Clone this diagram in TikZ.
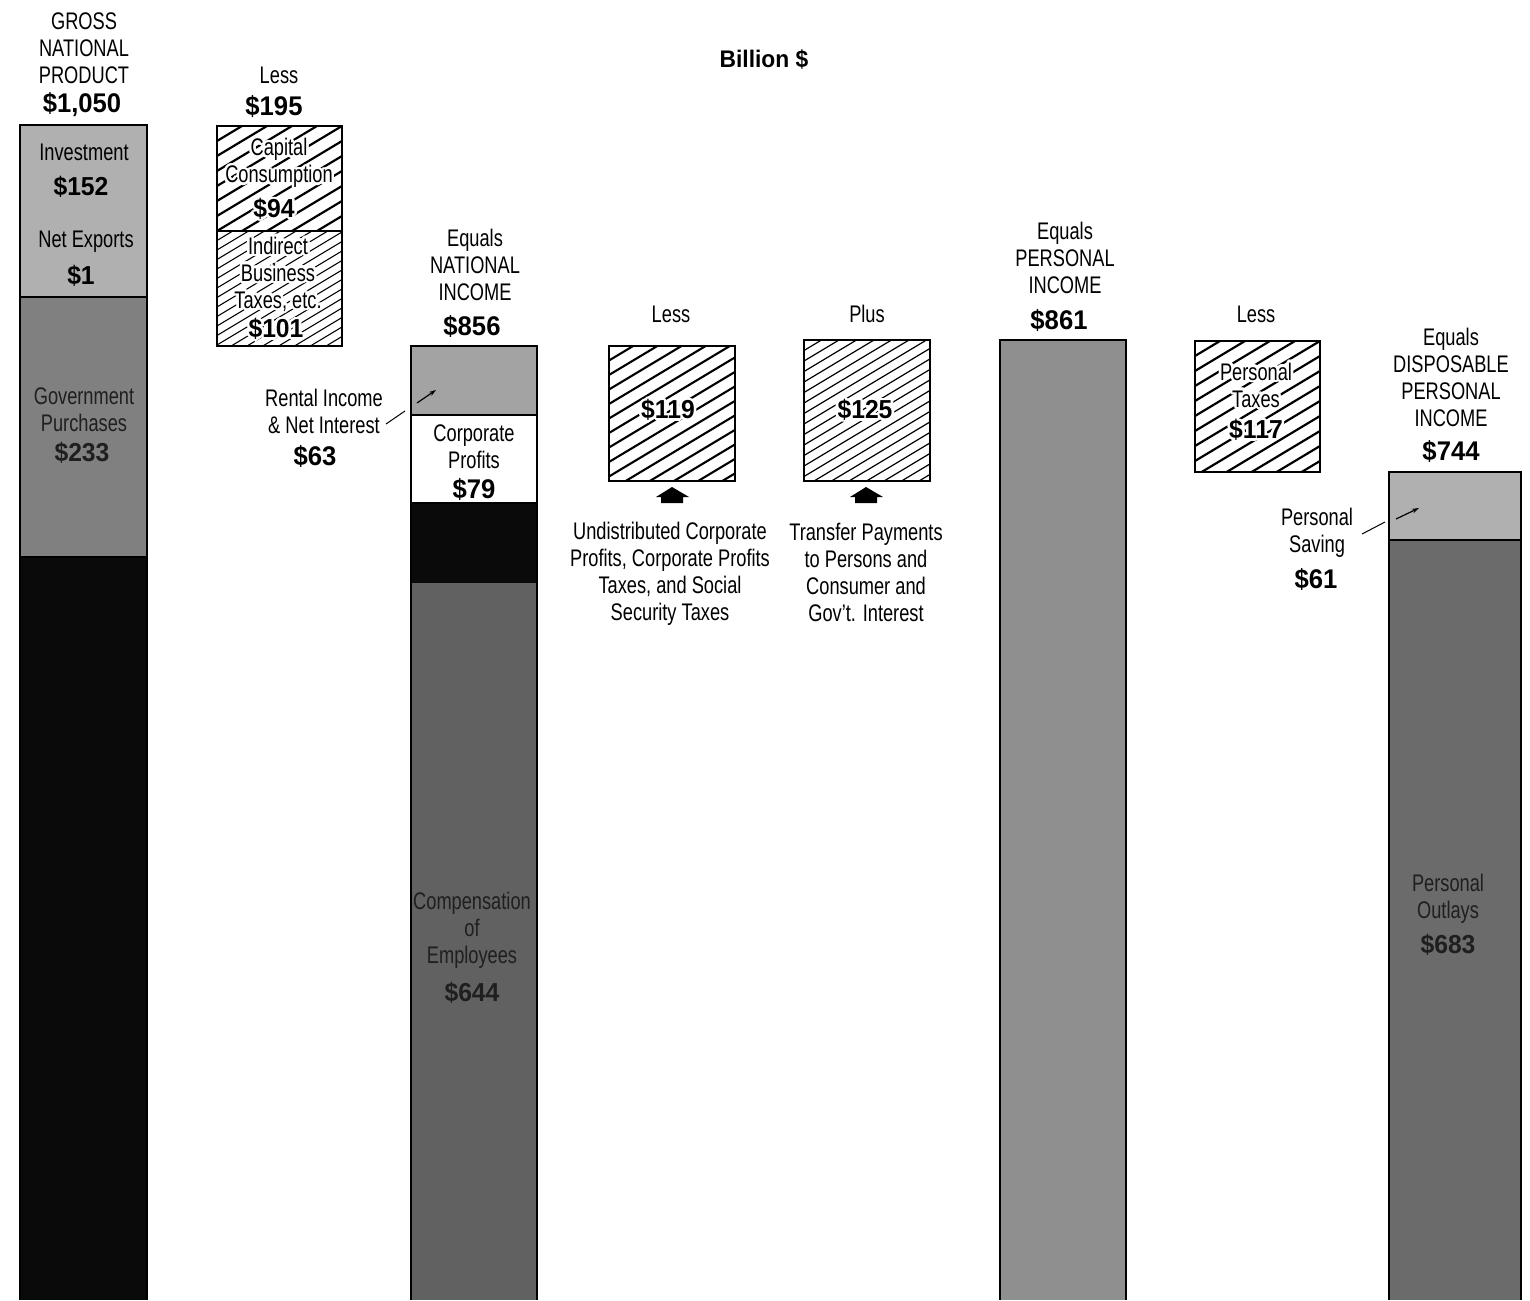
\documentclass[tikz,border=0pt]{standalone}
\usepackage{fontspec}
\setmainfont{Liberation Sans}[FakeStretch=0.76]
\newfontfamily\numf{Liberation Sans}[FakeStretch=0.95]
\usetikzlibrary{arrows.meta}
\definecolor{lightg}{gray}{0.69}
\definecolor{rentg}{gray}{0.64}
\definecolor{midg}{gray}{0.50}
\definecolor{darkg}{gray}{0.04}
\definecolor{compg}{gray}{0.38}
\definecolor{pig}{gray}{0.56}
\definecolor{outg}{gray}{0.42}
\definecolor{deep}{gray}{0.12}
\newcommand\hatchbox[6]{%
  \begin{scope}
    \clip (#1,#2) rectangle (#3,#4);
    \pgfmathsetmacro\hlen{#3-#1}
    \pgfmathsetmacro\hend{#4-#2+0.6*\hlen+#5}
    \foreach \k in {0,#5,...,\hend}
      \draw[line width=#6] (#1-2,#2+\k+1.2) -- ++(\hlen+6,-0.6*\hlen-3.6);
  \end{scope}}
\newcommand\halo[4]{%
  \foreach \a in {0,30,...,330}
    \node[#2,text=white] at ([shift={(\a:2.6)}]#3) {#4};
  \node[#2] (#1) at (#3) {#4};}
\begin{document}
\begin{tikzpicture}[x=1pt,y=-1pt,
  txt/.style={font=\fontsize{24}{27}\selectfont, align=center, inner sep=0pt},
  num/.style={font=\numf\bfseries\fontsize{27}{30}\selectfont, inner sep=0pt},
  bnum/.style={font=\numf\bfseries\fontsize{26}{30}\selectfont, inner sep=0pt},
  bar/.style={draw=black, line width=2pt},
  divider/.style={draw=black, line width=1.8pt},
  leader/.style={draw=black, line width=1pt},
  leadarrow/.style={draw=black, line width=1.2pt, -{Stealth[length=7pt,width=4.5pt]}},
  blockarrow/.style={fill=black}]
\useasboundingbox (0,0) rectangle (1530,1300);

% ---------- title
\node[num, font=\numf\bfseries\fontsize{24}{27}\selectfont] (title) at (764,59) {Billion \$};

% ---------- GNP bar
\fill[lightg] (20,125) rectangle (147,297);
\fill[midg] (20,297) rectangle (147,557);
\fill[darkg] (20,557) rectangle (147,1300);
\draw[bar] (20,1300) -- (20,125) -- (147,125) -- (147,1300);
\draw[divider] (20,297) -- (147,297);
\draw[divider] (20,557) -- (147,557);
\node[txt] (gnphead) at (84,48) {GROSS\\NATIONAL\\PRODUCT};
\node[num] (gnpval) at (82,105) {\$1,050};
\node[txt] (inv) at (84,152) {Investment};
\node[bnum] (invval) at (81,187) {\$152};
\node[txt] (nx) at (86,242) {Net Exports};
\node[bnum] (nxval) at (81,276) {\$1};
\node[txt, text=deep] (gov) at (84,410) {Government\\Purchases};
\node[bnum, text=deep] (govval) at (82,453) {\$233};

% ---------- Less $195 box
\hatchbox{217}{126}{342}{231}{15}{2.2pt}
\hatchbox{217}{231}{342}{346}{9.5}{1.1pt}
\draw[bar] (217,126) rectangle (342,346);
\draw[divider] (217,231) -- (342,231);
\node[txt] (less1) at (279,75) {Less};
\node[num] (less1val) at (274,106) {\$195};
\halo{capc}{txt}{279,163}{Capital\\Consumption}
\halo{capcval}{bnum}{274,209}{\$94}
\halo{ibt}{txt}{278,274}{Indirect\\Business\\Taxes, etc.}
\halo{ibtval}{bnum}{276,329}{\$101}

% ---------- National income bar
\fill[rentg] (411,346) rectangle (537,415);
\fill[white] (411,415) rectangle (537,503);
\fill[darkg] (411,503) rectangle (537,583);
\fill[compg] (411,583) rectangle (537,1300);
\draw[bar] (411,1300) -- (411,346) -- (537,346) -- (537,1300);
\draw[divider] (411,415) -- (537,415);
\draw[divider] (411,503) -- (537,503);
\node[txt] (nihead) at (475,265) {Equals\\NATIONAL\\INCOME};
\node[num] (nival) at (472,326) {\$856};
\node[txt] (corp) at (474,447) {Corporate\\Profits};
\node[num] (corpval) at (474,489) {\$79};
\node[txt, text=deep] (comp) at (472,930) {Compensation\\of\\Employees};
\node[bnum, text=deep] (compval) at (472,993) {\$644};
\node[txt] (rent) at (324,411) {Rental Income\\\& Net Interest};
\node[num] (rentval) at (315,456) {\$63};
\coordinate (rentA) at (386,424);
\coordinate (rentB) at (405,411);
\coordinate (rentC) at (417,403);
\coordinate (rentD) at (436,390);
\draw[leader] (rentA) -- (rentB);
\draw[leadarrow] (rentC) -- (rentD);

% ---------- $119 box
\hatchbox{609}{346}{735}{481}{14.5}{2.1pt}
\draw[bar] (609,346) rectangle (735,481);
\node[txt] (less2) at (671,314) {Less};
\halo{v119}{bnum}{668,410}{\$119}
\fill[blockarrow] (656,497) -- (672,487) -- (689,497) -- (683,497) -- (683,503) -- (661,503) -- (661,497) -- cycle;
\node[txt] (undist) at (670,574) {Undistributed Corporate\\Profits, Corporate Profits\\Taxes, and Social\\Security Taxes};

% ---------- $125 box
\hatchbox{804}{340}{930}{481}{10.5}{1.2pt}
\draw[bar] (804,340) rectangle (930,481);
\node[txt] (plus) at (867,314) {Plus};
\halo{v125}{bnum}{865,410}{\$125}
\fill[blockarrow] (850,497) -- (866,487) -- (883,497) -- (877,497) -- (877,503) -- (855,503) -- (855,497) -- cycle;
\node[txt] (transfer) at (866,572) {Transfer Payments\\to Persons and\\Consumer and\\Gov't. Interest};

% ---------- Personal income bar
\fill[pig] (1000,340) rectangle (1126,1300);
\draw[bar] (1000,1300) -- (1000,340) -- (1126,340) -- (1126,1300);
\node[txt] (pihead) at (1065,258) {Equals\\PERSONAL\\INCOME};
\node[num] (pival) at (1059,320) {\$861};

% ---------- Personal taxes box
\hatchbox{1195}{341}{1320}{472}{15}{2.2pt}
\draw[bar] (1195,341) rectangle (1320,472);
\node[txt] (less3) at (1256,314) {Less};
\halo{ptax}{txt}{1256,385}{Personal\\Taxes}
\halo{ptaxval}{bnum}{1256,430}{\$117}

% ---------- Disposable personal income bar
\fill[lightg] (1389,472) rectangle (1521,540);
\fill[outg] (1389,540) rectangle (1521,1300);
\draw[bar] (1389,1300) -- (1389,472) -- (1521,472) -- (1521,1300);
\draw[divider] (1389,540) -- (1521,540);
\node[txt] (dpihead) at (1451,377) {Equals\\DISPOSABLE\\PERSONAL\\INCOME};
\node[num] (dpival) at (1451,451) {\$744};
\node[txt] (saving) at (1317,533) {Personal\\Saving};
\node[num] (savingval) at (1316,579) {\$61};
\node[txt, text=deep] (outlays) at (1448,899) {Personal\\Outlays};
\node[bnum, text=deep] (outlaysval) at (1448,945) {\$683};
\coordinate (savA) at (1362,534);
\coordinate (savB) at (1385,522);
\coordinate (savC) at (1396,519);
\coordinate (savD) at (1419,508);
\draw[leader] (savA) -- (savB);
\draw[leadarrow] (savC) -- (savD);
\end{tikzpicture}
\end{document}
